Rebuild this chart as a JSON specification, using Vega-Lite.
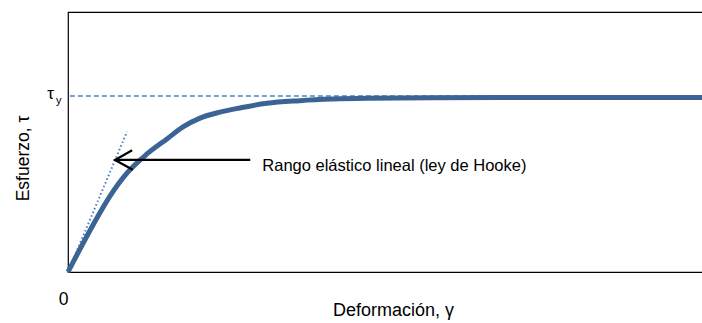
{
  "$schema": "https://vega.github.io/schema/vega-lite/v6.json",
  "width": 635,
  "height": 260,
  "autosize": {"type": "none"},
  "padding": {"left": 68, "top": 12, "right": 0, "bottom": 51},
  "background": "white",
  "config": {
    "view": {"stroke": "black", "strokeWidth": 1.2},
    "font": "Liberation Sans"
  },
  "datasets": {
    "curve": [
      {"x": 0, "y": 0}, {"x": 1.89, "y": 8.85}, {"x": 3.94, "y": 18.1}, {"x": 6.61, "y": 29.2},
      {"x": 9.45, "y": 38.5}, {"x": 12.44, "y": 45.4}, {"x": 15.59, "y": 51.2}, {"x": 18.11, "y": 55.8},
      {"x": 20.79, "y": 59.2}, {"x": 23.94, "y": 61.5}, {"x": 27.09, "y": 63.1}, {"x": 31.3, "y": 64.9},
      {"x": 36.5, "y": 65.9}, {"x": 41.7, "y": 66.5}, {"x": 47.1, "y": 66.8}, {"x": 57.5, "y": 67.0},
      {"x": 75.9, "y": 67.1}, {"x": 100, "y": 67.1}
    ],
    "tangent": [{"x": 0, "y": 0}, {"x": 9.3, "y": 54.0}],
    "yield": [{"x": 0.3, "x2": 100, "y": 67.7}],
    "arrow": [
      {"part": "shaft", "o": 0, "x": 28.7, "y": 43.1},
      {"part": "shaft", "o": 1, "x": 7.4, "y": 43.1},
      {"part": "head", "o": 0, "x": 10.1, "y": 46.8},
      {"part": "head", "o": 1, "x": 7.4, "y": 43.1},
      {"part": "head", "o": 2, "x": 10.2, "y": 39.3}
    ],
    "notes": [
      {"x": 30.6, "y": 40.6, "text": "Rango elástico lineal (ley de Hooke)"}
    ],
    "tau": [
      {"x": -2.75, "y": 68.5, "text": "τ", "size": 17},
      {"x": -1.45, "y": 65.8, "text": "y", "size": 11}
    ]
  },
  "layer": [
    {
      "data": {"name": "yield"},
      "mark": {"type": "rule", "color": "#4f81bd", "strokeWidth": 1.3, "strokeDash": [5, 3]},
      "encoding": {
        "x": {"field": "x", "type": "quantitative", "scale": {"domain": [0, 100], "nice": false},
          "axis": {"values": [0], "domain": false, "ticks": false, "grid": false, "labelFontSize": 17.5, "labelColor": "black", "labelPadding": 18, "labelFlush": false, "labelAlign": "right", "labelDx": -1,
            "title": "Deformación, γ", "titleFontSize": 18, "titleFontWeight": "normal", "titleColor": "black", "titlePadding": -6, "titleX": 325}},
        "x2": {"field": "x2"},
        "y": {"field": "y", "type": "quantitative", "scale": {"domain": [0, 100], "nice": false},
          "axis": {"values": [], "domain": false, "ticks": false, "grid": false, "labels": false,
            "title": "Esfuerzo, τ", "titleFontSize": 17.5, "titleFontWeight": "normal", "titleColor": "black", "titlePadding": 36, "titleY": 146}}
      }
    },
    {
      "data": {"name": "tangent"},
      "mark": {"type": "line", "color": "#4a7ec4", "strokeWidth": 2, "strokeDash": [1.5, 2.5]},
      "encoding": {
        "x": {"field": "x", "type": "quantitative"},
        "y": {"field": "y", "type": "quantitative"}
      }
    },
    {
      "data": {"name": "curve"},
      "mark": {"type": "line", "color": "#3b6495", "strokeWidth": 5, "interpolate": "monotone", "strokeCap": "butt"},
      "encoding": {
        "x": {"field": "x", "type": "quantitative"},
        "y": {"field": "y", "type": "quantitative"}
      }
    },
    {
      "data": {"name": "arrow"},
      "mark": {"type": "line", "color": "black", "strokeWidth": 2.2},
      "encoding": {
        "x": {"field": "x", "type": "quantitative"},
        "y": {"field": "y", "type": "quantitative"},
        "detail": {"field": "part"},
        "order": {"field": "o"}
      }
    },
    {
      "data": {"name": "notes"},
      "mark": {"type": "text", "align": "left", "baseline": "middle", "fontSize": 16.5, "color": "black"},
      "encoding": {
        "x": {"field": "x", "type": "quantitative"},
        "y": {"field": "y", "type": "quantitative"},
        "text": {"field": "text"}
      }
    },
    {
      "data": {"name": "tau"},
      "mark": {"type": "text", "align": "center", "baseline": "middle", "color": "black"},
      "encoding": {
        "x": {"field": "x", "type": "quantitative"},
        "y": {"field": "y", "type": "quantitative"},
        "text": {"field": "text"},
        "size": {"field": "size", "type": "quantitative", "scale": null}
      }
    }
  ]
}
